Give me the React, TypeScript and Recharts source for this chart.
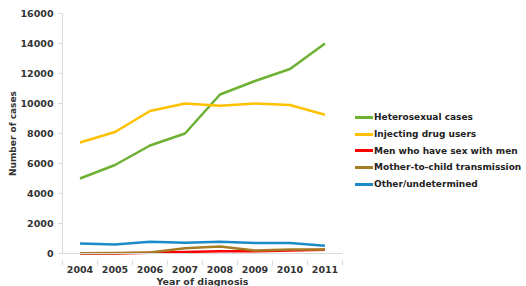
import { LineChart, Line, XAxis, YAxis } from "recharts";

const years = ["2004", "2005", "2006", "2007", "2008", "2009", "2010", "2011"];
const heterosexual = [5000, 5900, 7200, 8000, 10600, 11500, 12300, 14000];
const injectingDrugUsers = [7400, 8100, 9500, 10000, 9850, 10000, 9900, 9250];
const menWithMen = [0, 0, 50, 100, 150, 150, 200, 250];
const motherToChild = [20, 40, 60, 350, 460, 200, 270, 260];
const otherUndetermined = [660, 600, 790, 720, 790, 700, 700, 520];
const yTicks = [0, 2000, 4000, 6000, 8000, 10000, 12000, 14000, 16000];

const series = [
  { key: "het", name: "Heterosexual cases", color: "#6db132", values: heterosexual },
  { key: "idu", name: "Injecting drug users", color: "#ffc000", values: injectingDrugUsers },
  { key: "msm", name: "Men who have sex with men", color: "#ff0000", values: menWithMen },
  { key: "mtct", name: "Mother-to-child transmission", color: "#a67c24", values: motherToChild },
  { key: "other", name: "Other/undetermined", color: "#1a8bc8", values: otherUndetermined },
];

const data = years.map((year, i) => {
  const row: Record<string, string | number> = { year };
  series.forEach((s) => (row[s.key] = s.values[i]));
  return row;
});

const font = "'DejaVu Sans', Verdana, sans-serif";
const HALF_BAND = 17.5;

function YearTick(props: any) {
  const { x, y, payload, index } = props;
  const last = index === years.length - 1;
  return (
    <g>
      <line x1={x - HALF_BAND} y1={y - 1} x2={x - HALF_BAND} y2={y + 4} stroke="#d9d9d9" />
      {last && <line x1={x + HALF_BAND} y1={y - 1} x2={x + HALF_BAND} y2={y + 4} stroke="#d9d9d9" />}
      <text x={x} y={y + 11} textAnchor="middle" fontSize={9.5} fontWeight="bold" fill="#333" fontFamily={font}>
        {payload.value}
      </text>
    </g>
  );
}

export default function App() {
  return (
    <div style={{ position: "absolute", left: 0, top: 0, width: 526, height: 286, background: "#fff", fontFamily: font }}>
      <LineChart width={526} height={286} data={data} margin={{ top: 13.5, right: 183.5, bottom: 0, left: 0 }}>
        <XAxis
          dataKey="year"
          stroke="#d9d9d9"
          tickLine={false}
          tick={<YearTick />}
          interval={0}
          height={32.5}
          padding={{ left: HALF_BAND, right: HALF_BAND }}
          label={{ value: "Year of diagnosis", position: "insideBottom", offset: 0, dy: -1, fill: "#333", fontSize: 9.5, fontWeight: "bold", fontFamily: font }}
        />
        <YAxis
          domain={[0, 16000]}
          ticks={yTicks}
          width={62.5}
          stroke="#d9d9d9"
          tickSize={4}
          tickMargin={5}
          tick={{ fill: "#333", fontSize: 9.5, fontWeight: "bold", fontFamily: font }}
          label={{ value: "Number of cases", angle: -90, position: "insideLeft", offset: 13, style: { textAnchor: "middle" }, fill: "#333", fontSize: 9, fontWeight: "bold", fontFamily: font }}
        />
        {series.map((s) => (
          <Line
            key={s.key}
            type="linear"
            dataKey={s.key}
            name={s.name}
            stroke={s.color}
            strokeWidth={2.5}
            strokeLinejoin="round"
            dot={false}
            isAnimationActive={false}
          />
        ))}
      </LineChart>
      <div style={{ position: "absolute", left: 355, top: 109 }}>
        {series.map((s) => (
          <div key={s.key} style={{ display: "flex", alignItems: "center", height: 16.7 }}>
            <span style={{ display: "inline-block", width: 18, height: 3, background: s.color }} />
            <span style={{ marginLeft: 1, fontSize: 9, fontWeight: "bold", color: "#222", whiteSpace: "nowrap" }}>{s.name}</span>
          </div>
        ))}
      </div>
    </div>
  );
}
